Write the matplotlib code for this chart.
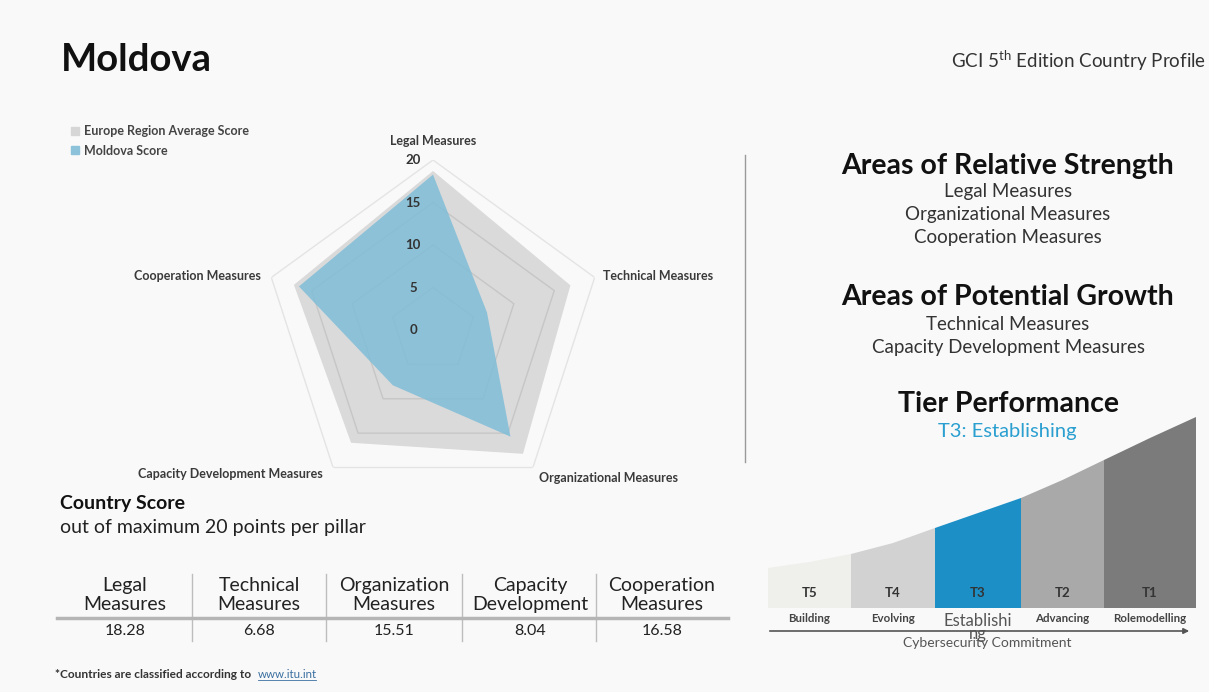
import matplotlib
matplotlib.use("Agg")
import matplotlib.pyplot as plt
import matplotlib.transforms as mtransforms
import numpy as np

plt.rcParams['font.family'] = ['Lato', 'DejaVu Sans']
plt.rcParams['mathtext.fontset'] = 'custom'
plt.rcParams['mathtext.rm'] = 'Lato'

# data
pillars = ['Legal Measures', 'Technical Measures', 'Organizational Measures',
           'Capacity Development Measures', 'Cooperation Measures']
moldova = [18.28, 6.68, 15.51, 8.04, 16.58]
europe = [18.6, 16.9, 17.9, 16.3, 17.1]
ring_levels = [5, 10, 15, 20]
tick_levels = [0, 5, 10, 15, 20]

table_heads = ['Legal\nMeasures', 'Technical\nMeasures', 'Organization\nMeasures',
               'Capacity\nDevelopment', 'Cooperation\nMeasures']
table_vals = ['18.28', '6.68', '15.51', '8.04', '16.58']

strengths = ['Legal Measures', 'Organizational Measures', 'Cooperation Measures']
growth = ['Technical Measures', 'Capacity Development Measures']

tiers = ['T5', 'T4', 'T3', 'T2', 'T1']
tier_names = ['Building', 'Evolving', 'Establishi\nng', 'Advancing', 'Rolemodelling']
tier_colors = ['#efefeb', '#d2d2d2', '#1b8fc6', '#a9a9a9', '#7b7b7b']
# curve heights (left, middle, right of each tier)
tier_tops = [(40, 46, 54), (54, 65, 80), (80, 95, 110), (110, 128, 148), (148, 170, 191)]

W, H = 1209, 692
fig = plt.figure(figsize=(W / 100, H / 100), dpi=100)
fig.patch.set_facecolor('#f9f9f9')

# pixel canvas
bg = fig.add_axes([0, 0, 1, 1])
bg.set_xlim(0, W)
bg.set_ylim(H, 0)
bg.axis('off')

bg.text(61, 60, 'Moldova', fontsize=27.5, fontweight='bold', color='#111111', va='center')
bg.text(1206, 61, r'GCI 5$^{\mathrm{th}}$ Edition Country Profile', fontsize=13.5,
        color='#333333', ha='right', va='center')

# legend
bg.add_patch(plt.Rectangle((71, 127), 8, 8, color='#d6d6d6'))
bg.add_patch(plt.Rectangle((71, 146), 8, 8, color='#8cc3da'))
bg.text(84, 131, 'Europe Region Average Score', fontsize=9, fontweight='bold', color='#444444', va='center')
bg.text(84, 151, 'Moldova Score', fontsize=9, fontweight='bold', color='#444444', va='center')

# radar
cx, cy, R = 433, 330, 170
rax = fig.add_axes([(cx - R) / W, (H - cy - R) / H, 2 * R / W, 2 * R / H], projection='polar')
rax.set_theta_offset(np.pi / 2)
rax.set_theta_direction(-1)
rax.set_ylim(0, 20)
rax.patch.set_alpha(0)
rax.grid(False)
rax.set_xticks([])
rax.set_yticks([])
rax.spines['polar'].set_visible(False)

ang = np.linspace(0, 2 * np.pi, len(pillars), endpoint=False)
ang_c = np.concatenate([ang, ang[:1]])
eu = np.array(europe + europe[:1])
md = np.array(moldova + moldova[:1])
rax.fill(ang_c, eu, color='#dadada', zorder=1)
for lv in ring_levels:
    col = '#e4e4e4' if lv == 20 else '#c6c6c6'
    rax.plot(ang_c, [lv] * len(ang_c), color=col, lw=1.0, zorder=2)
rax.fill(ang_c, md, color='#7fbdd8', alpha=0.85, zorder=3, lw=0)
off = mtransforms.ScaledTranslation(-0.2, 0, fig.dpi_scale_trans)
for lv in tick_levels:
    rax.text(0, lv, str(lv), transform=rax.transData + off, fontsize=9.5, fontweight='bold',
             color='#333333', ha='center', va='center', zorder=5)

lab_pos = [(433, 141, 'center'), (603, 276, 'left'), (539, 478, 'left'),
           (323, 474, 'right'), (261, 276, 'right')]
for name, (x, y, ha) in zip(pillars, lab_pos):
    bg.text(x, y, name, fontsize=9, fontweight='bold', color='#3a3a3a', ha=ha, va='center')

# divider
bg.plot([745, 745], [155, 462], color='#9a9a9a', lw=1)

# right side texts
rx = 1008
bg.text(rx, 166, 'Areas of Relative Strength', fontsize=20.5, fontweight='bold', color='#111111',
        ha='center', va='center')
for i, s in enumerate(strengths):
    bg.text(rx, 192 + 22.5 * i, s, fontsize=13.5, color='#333333', ha='center', va='center')
bg.text(rx, 297, 'Areas of Potential Growth', fontsize=20.5, fontweight='bold', color='#111111',
        ha='center', va='center')
for i, s in enumerate(growth):
    bg.text(rx, 324 + 23 * i, s, fontsize=13.5, color='#333333', ha='center', va='center')
bg.text(rx, 404, 'Tier Performance', fontsize=20.5, fontweight='bold', color='#111111',
        ha='center', va='center')
bg.text(1007, 431, 'T3: Establishing', fontsize=14.5, color='#2a9fd0', ha='center', va='center')

# tier graphic
edges = [768, 851, 935, 1021, 1104, 1196]
base = 608
for i in range(5):
    x0, x1 = edges[i], edges[i + 1]
    xs = [x0, (x0 + x1) / 2, x1]
    tops = [base - t for t in tier_tops[i]]
    bg.fill(xs + [x1, x0], tops + [base, base], color=tier_colors[i], lw=0)
    bg.text((x0 + x1) / 2, 593, tiers[i], fontsize=9.5, fontweight='bold', color='#333333',
            ha='center', va='center')
    if i == 2:
        bg.text((x0 + x1) / 2, 613, tier_names[i], fontsize=12, color='#555555', ha='center',
                va='top', linespacing=0.8)
    else:
        bg.text((x0 + x1) / 2, 619, tier_names[i], fontsize=8.3, fontweight='bold', color='#444444',
                ha='center', va='center')
bg.annotate('', xy=(1192, 631), xytext=(767, 631),
            arrowprops=dict(arrowstyle='-|>', color='#555555', lw=1.2, mutation_scale=8))
bg.text(987, 643, 'Cybersecurity Commitment', fontsize=10, color='#555555', ha='center', va='center')

# country score
bg.text(60, 504, 'Country Score', fontsize=14, fontweight='bold', color='#111111', va='center')
bg.text(60, 528, 'out of maximum 20 points per pillar', fontsize=14, color='#222222', va='center')

cols = [125, 259, 394, 530, 662]
for x, h, v in zip(cols, table_heads, table_vals):
    bg.text(x, 595, h, fontsize=14, color='#222222', ha='center', va='center', linespacing=1.15)
    bg.text(x, 631, v, fontsize=11.5, color='#222222', ha='center', va='center')
for x in [192, 326, 462, 596]:
    bg.plot([x, x], [574, 641], color='#bdbdbd', lw=1)
bg.plot([57, 728], [618, 618], color='#b5b5b5', lw=2.5)

bg.text(55, 674, '*Countries are classified according to', fontsize=8.6, fontweight='bold',
        color='#333333', va='center')
bg.text(258, 674, 'www.itu.int', fontsize=8.3, color='#3b6fa0', va='center')
bg.plot([258, 316], [680, 680], color='#3b6fa0', lw=0.6)

fig.savefig('out.png', dpi=100, facecolor=fig.get_facecolor())
